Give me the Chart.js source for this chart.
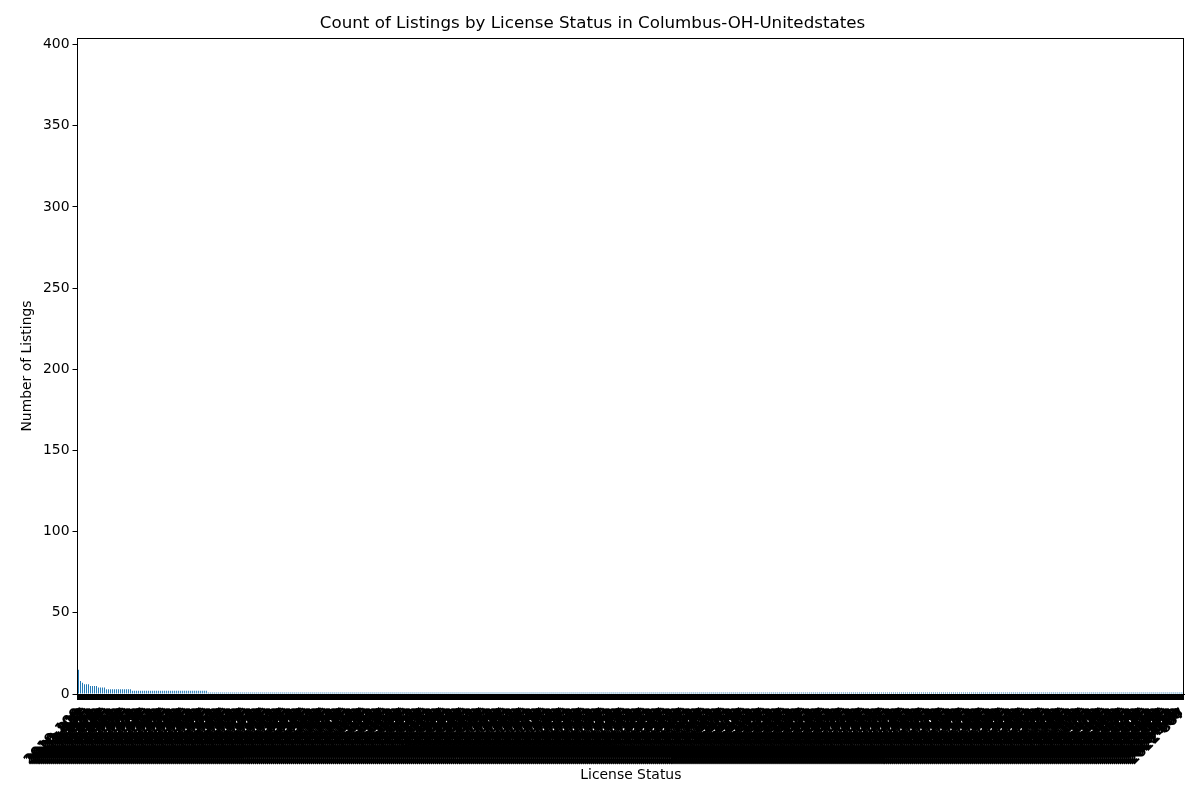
<!DOCTYPE html>
<html>
<head>
<meta charset="utf-8">
<script src="https://cdn.jsdelivr.net/npm/chart.js@4.4.1/dist/chart.umd.min.js"></script>
<style>
  html, body { margin: 0; padding: 0; background: #fff; }
  #wrap { width: 1200px; height: 800px; }
</style>
</head>
<body>
<div id="wrap"><canvas id="c" width="1200" height="800"></canvas></div>
<script>
// Counts, as runs of [value, number of bars]
const valueRuns = [[15,1],[8,1],[7,1],[6,3],[5,4],[4,4],[3,13],[2,38],[1,489]];
// Y-axis tick labels
const yTicks = [0, 50, 100, 150, 200, 250, 300, 350, 400];
const yMax = 404;
const titleText = "Count of Listings by License Status in Columbus-OH-Unitedstates";
const xTitle = "License Status";
const yTitle = "Number of Listings";

const counts = [];
valueRuns.forEach(([v, n]) => { for (let i = 0; i < n; i++) counts.push(v); });
// License numbers are illegible in the picture (a solid mass of rotated text); placeholder IDs
const categories = counts.map((_, i) => (2019 + (i % 5)) + "-" + String(100 + ((i * 7919) % 900)));

Chart.defaults.color = '#000';
Chart.defaults.font.family = "'DejaVu Sans', sans-serif";

const frame = {
  id: 'frame',
  afterDraw(chart) {
    const {ctx, chartArea: a} = chart;
    ctx.save();
    ctx.strokeStyle = '#000';
    ctx.lineWidth = 1;
    const l = Math.floor(a.left) + 0.5, t = Math.round(a.top) + 0.5;
    const r = Math.round(a.right) - 0.5, b = Math.round(a.bottom) + 0.5;
    ctx.strokeRect(l, t, r - l, b - t);
    ctx.restore();
  }
};

new Chart(document.getElementById('c'), {
  type: 'bar',
  data: {
    labels: categories,
    datasets: [{
      data: counts,
      backgroundColor: '#1f77b4',
      borderWidth: 0,
      categoryPercentage: 1.0,
      barPercentage: 0.5
    }]
  },
  options: {
    responsive: false,
    animation: false,
    events: [],
    layout: { padding: { left: 0, right: 15, top: 0, bottom: 0 } },
    plugins: {
      legend: { display: false },
      tooltip: { enabled: false },
      title: {
        display: true,
        text: titleText,
        font: { size: 16.7, weight: 'normal' },
        padding: { top: 14, bottom: 4 }
      }
    },
    scales: {
      x: {
        offset: true,
        grid: { display: true, drawOnChartArea: false, offset: false, drawTicks: true, tickLength: 6, color: '#000', lineWidth: 2 },
        border: { display: true, color: '#000', width: 1 },
        ticks: { autoSkip: false, minRotation: 45, maxRotation: 45, font: { size: 13.9, weight: 'bold' }, padding: 5 },
        title: { display: true, text: xTitle, font: { size: 13.9 }, padding: 16 },
        afterFit(scale) { scale.height = 106; }
      },
      y: {
        min: 0,
        max: yMax,
        grid: { display: true, drawOnChartArea: false, drawTicks: true, tickLength: 5, color: '#000', lineWidth: 1 },
        border: { display: true, color: '#000', width: 1 },
        ticks: {
          includeBounds: false,
          stepSize: 50,
          font: { size: 13.9 },
          padding: 3,
          callback: (v) => yTicks.includes(v) ? String(v) : null
        },
        title: { display: true, text: yTitle, font: { size: 13.9 }, padding: 19 },
        afterFit(scale) { scale.width = 77.5; }
      }
    }
  },
  plugins: [frame]
});
</script>
</body>
</html>
